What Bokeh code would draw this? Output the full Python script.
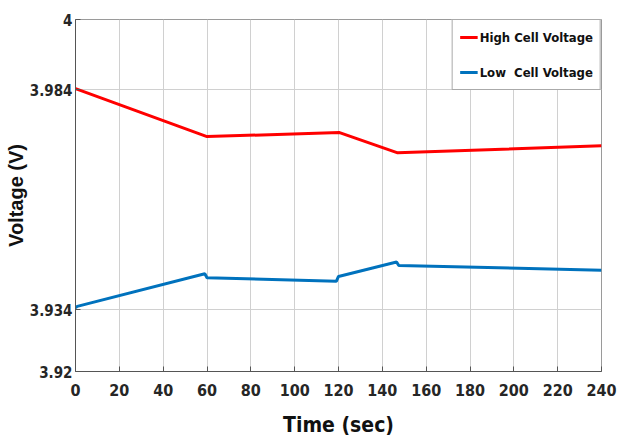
from bokeh.plotting import figure
from bokeh.models import FixedTicker, Legend, LegendItem
from bokeh.embed import file_html
from bokeh.resources import INLINE

high_t = [0, 60, 120.5, 147, 240]
high_v = [3.9843, 3.9734, 3.9743, 3.9697, 3.9713]
low_t = [0, 0.8, 59, 60, 119, 120, 146.5, 147.5, 240]
low_v = [3.9345, 3.9348, 3.9422, 3.9413, 3.9405, 3.9416, 3.9449, 3.9441, 3.9430]
x_ticks = list(range(0, 241, 20))
y_ticks = [3.92, 3.934, 3.984, 4.0]

NARROW = "'DejaVu Sans Condensed', 'Liberation Sans Narrow', 'Liberation Sans'"

p = figure(width=625, height=443, output_backend="svg", toolbar_location=None,
           x_range=(0, 240), y_range=(3.92, 4.0),
           min_border_left=75, min_border_right=24, min_border_top=19, min_border_bottom=72)
p.background_fill_color = "white"
p.border_fill_color = "white"
p.outline_line_color = "#9a9a9a"
p.outline_line_width = 1

r1 = p.line(high_t, high_v, line_color="#FF0000", line_width=3)
r2 = p.line(low_t, low_v, line_color="#0072BD", line_width=3)

p.xaxis.ticker = FixedTicker(ticks=x_ticks)
p.yaxis.ticker = FixedTicker(ticks=y_ticks)
p.yaxis.major_label_overrides = {3.92: "3.92", 3.934: "3.934", 3.984: "3.984", 4.0: "4"}

for ax in (p.xaxis[0], p.yaxis[0]):
    ax.axis_line_color = "#555555"
    ax.major_tick_line_color = "#555555"
    ax.major_tick_in = 5
    ax.major_tick_out = 0
    ax.minor_tick_line_color = None
    ax.major_label_text_font = NARROW
    ax.major_label_text_font_style = "bold"
    ax.major_label_text_font_size = "15px"
    ax.major_label_text_color = "#262626"
    ax.axis_label_text_font_style = "bold"
    ax.axis_label_text_color = "#111111"

p.xaxis.major_label_text_font_size = "16px"
p.xaxis.major_label_standoff = 12
p.yaxis.major_label_standoff = 3
p.xaxis.axis_label = "Time (sec)"
p.xaxis.axis_label_text_font = NARROW
p.xaxis.axis_label_text_font_size = "21px"
p.xaxis.axis_label_standoff = 14
p.yaxis.axis_label = "Voltage (V)"
p.yaxis.axis_label_text_font = "'Liberation Sans'"
p.yaxis.axis_label_text_font_size = "20px"
p.yaxis.axis_label_standoff = 0

p.xgrid.ticker = FixedTicker(ticks=x_ticks)
p.ygrid.ticker = FixedTicker(ticks=y_ticks)
p.grid.grid_line_color = "#d0d0d0"
p.grid.grid_line_width = 1

legend = Legend(items=[LegendItem(label="High Cell Voltage", renderers=[r1]),
                       LegendItem(label="Low  Cell Voltage", renderers=[r2])],
                location="top_right")
legend.label_text_font = NARROW
legend.label_text_font_style = "bold"
legend.label_text_font_size = "13px"
legend.label_text_color = "#111111"
legend.glyph_width = 18
legend.glyph_height = 20
legend.label_standoff = 2
legend.spacing = 15
legend.padding = 7
legend.margin = 0
legend.border_line_color = "#555555"
legend.border_line_width = 1
legend.background_fill_alpha = 1
p.add_layout(legend)

open("out.html", "w").write(file_html(p, INLINE))
